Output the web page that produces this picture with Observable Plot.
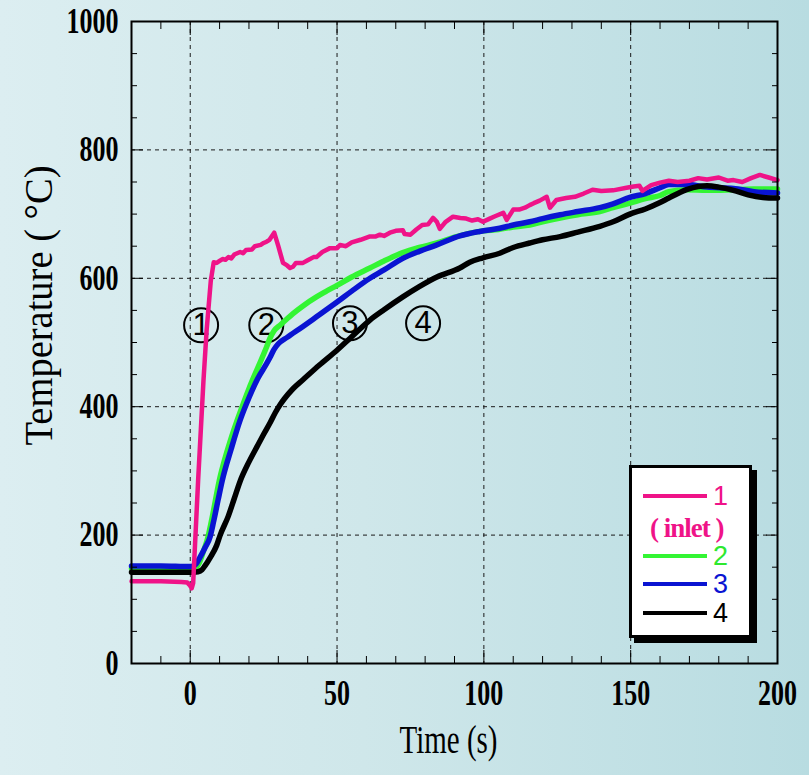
<!DOCTYPE html>
<html><head><meta charset="utf-8">
<script src="https://cdn.jsdelivr.net/npm/d3@7"></script>
<script src="https://cdn.jsdelivr.net/npm/@observablehq/plot@0.6"></script>
<style>
body{margin:0;}
#wrap{position:relative;width:809px;height:775px;background:linear-gradient(to right,#dceef1 0%,#cfe7ea 45%,#b8dce1 100%);overflow:hidden;}
#wrap svg{position:absolute;left:0;top:0;}
#legend{position:absolute;left:629px;top:465px;width:117px;height:167px;background:#fff;border:3px solid #000;box-shadow:5px 5px 0 #000;}
#legend .ln{position:absolute;left:11px;width:64px;height:4px;}
#legend .lb{position:absolute;left:81px;font-family:"Liberation Sans",Arial,sans-serif;font-size:27px;line-height:20px;height:20px;}
#legend .sub{position:absolute;left:18px;font-family:"Liberation Serif",serif;font-weight:bold;font-size:27px;line-height:20px;height:20px;letter-spacing:-1px;}
</style></head><body><div id="wrap"></div>
<script>
// ---- data (time s, temperature °C) ----
const series1 = [[-20,128],[-10,128],[-3,127],[-1,126],[0,121],[0.5,117],[1,125],[2.7,286],[4.5,440],[5.6,520],[7,596],[8,625],[9,624],[10,627],[11,630],[12,629],[13,633],[14,631],[15,637],[17,641],[18,639],[19,644],[21,645],[22,650],[24,652],[25,655],[26,657],[27,660],[28.6,671],[30,650],[31.6,624],[33,620],[34,616],[35,618],[36,624],[38.4,624],[40,628],[42,633],[43,633],[45,641],[47.6,647],[50,647],[51,652],[53,650],[55,656],[58,660],[61,665],[63,665],[64.6,668],[66,666],[68,671],[70,674],[72.4,675],[73,669],[75,668],[77,676],[79,683],[81,684],[82.7,694],[84,688],[85,677],[87,688],[89.5,696],[92,694],[94,693],[96,690],[98,692],[99.7,688],[102,693],[104,697],[106.6,702],[107.8,691],[110,707],[112,707],[114,710],[115.6,714],[117,717],[119,721],[121.4,727],[122.5,710],[124.7,722],[128,725],[131,727],[134,732],[137,738],[140,736],[144,737],[148.6,741],[151,743],[153,744],[154,736],[157,745],[160,749],[163,752],[166,750],[170,752],[173,756],[176,754],[180,757],[183,752],[185,753],[188,750],[191,756],[194,761],[197,757],[200,753]];
const series2 = [[-20,148],[0,148],[1.5,148],[3,156],[4.5,175],[6,196],[7.5,228],[9.9,285],[12,322],[14,352],[16,379],[18,404],[20,428],[22,450],[24,471],[26,493],[27.2,507],[28.5,518],[30.6,527],[33,537],[35,545],[38.4,557],[43,571],[46,579],[50,589],[55,602],[61.2,616],[66,627],[72.4,640],[78,648],[84,655],[90,664],[95,670],[100,674],[105,676],[110,680],[115.6,683],[120,688],[126,694],[132,699],[139.5,704],[144,710],[149.7,717],[155,724],[160,729],[163,735],[169,738],[176,737],[185,738],[192,739],[200,739]];
const series3 = [[-20,152],[-10,152],[0,151],[1,152],[2,155],[3.4,166],[5,180],[6.8,198],[8,222],[9.5,255],[10.9,285],[14,335],[17,379],[20,414],[23,444],[26,467],[27.2,477],[28.5,489],[30,498],[33,508],[38.4,525],[43,540],[50,563],[55,580],[61.2,600],[66,613],[72.4,631],[78,642],[84,652],[91.8,666],[98.6,673],[105.4,678],[110,683],[115.6,688],[120,693],[126,699],[132,704],[139.5,710],[144,716],[149.7,726],[155,732],[160,741],[163,746],[169,746],[176,742],[185,740],[192,735],[200,733]];
const series4 = [[-20,142],[0,142],[2.7,143],[4,146],[5,152],[6.8,165],[9,184],[10.2,200],[13,230],[15,257],[17,284],[20,314],[23,340],[25,357],[27.2,375],[29,391],[30.6,403],[32,412],[35,428],[38.4,442],[44,465],[50,488],[55,509],[61.2,535],[66,551],[72.4,571],[78,587],[84,602],[91.8,616],[95.2,625],[99.7,632],[105.4,639],[110,648],[115.6,655],[120,660],[126,665],[132,672],[139.5,681],[144,688],[149.7,700],[155,708],[160,718],[163,725],[169,738],[173,743],[176,744],[180,742],[185,737],[190,730],[195,726],[200,725]];
const seriesNames = ["1","2","3","4"];
const seriesColors = ["#ef1388","#33f533","#0a14d2","#000000"];
const circleLabels = ["1","2","3","4"];
const circleTime = [3.7,25.9,54.4,79.3];
const circleTemp = [527,527,530,530];
const xTickLabels = [0,50,100,150,200];
const yTickLabels = [0,200,400,600,800,1000];
const xGrid = [0,50,100,150];
const yGrid = [200,400,600,800];
const xMinor = d3.range(-10,200,10).filter(v => v % 50 !== 0);
const yMinor = d3.range(50,1000,50).filter(v => v % 200 !== 0);
const xTitle = "Time (s)";
const yTitle = "Temperature ( °C)";
const legendSub = "( inlet )";

const circles = circleLabels.map((l,i) => ({label:l, t:circleTime[i], v:circleTemp[i]}));
const blank = () => "";
const plain = d => String(d);
const dash = {stroke:"#1a1a1a", strokeOpacity:1, strokeWidth:1, strokeDasharray:"4,4"};
const lbl = {fontSize:35, fontWeight:"bold", fontFamily:"Liberation Serif", tickSize:0, label:null, tickFormat:plain};

const chart = Plot.plot({
  width:809, height:775,
  marginLeft:131, marginRight:32, marginTop:21, marginBottom:112,
  x:{domain:[-20,200]},
  y:{domain:[0,1000]},
  style:{background:"transparent", fontFamily:"Liberation Serif", color:"#000", overflow:"visible"},
  marks:[
    Plot.gridX(xGrid, dash),
    Plot.gridY(yGrid, dash),
    Plot.dot(circles, {x:"t", y:"v", r:17, stroke:"#000", strokeWidth:2, fill:"none"}),
    Plot.text(circles, {x:"t", y:"v", text:"label", fontSize:31, fontFamily:"Liberation Sans", fill:"#000"}),
    Plot.line(series2, {x:d=>d[0], y:d=>d[1], stroke:seriesColors[1], strokeWidth:5.5, curve:"monotone-x"}),
    Plot.line(series3, {x:d=>d[0], y:d=>d[1], stroke:seriesColors[2], strokeWidth:5.5, curve:"monotone-x"}),
    Plot.line(series4, {x:d=>d[0], y:d=>d[1], stroke:seriesColors[3], strokeWidth:5.5, curve:"monotone-x"}),
    Plot.line(series1, {x:d=>d[0], y:d=>d[1], stroke:seriesColors[0], strokeWidth:4.5}),
    Plot.frame({stroke:"#000", strokeWidth:2}),
    Plot.axisX(xMinor, {anchor:"bottom", tickSize:-7, tickFormat:blank, label:null}),
    Plot.axisX(xGrid, {anchor:"bottom", tickSize:-13, tickFormat:blank, label:null}),
    Plot.axisX(xMinor, {anchor:"top", tickSize:-7, tickFormat:blank, label:null}),
    Plot.axisX(xGrid, {anchor:"top", tickSize:-13, tickFormat:blank, label:null}),
    Plot.axisY(yMinor, {anchor:"left", tickSize:-6, tickFormat:blank, label:null}),
    Plot.axisY(yGrid, {anchor:"left", tickSize:-12, tickFormat:blank, label:null}),
    Plot.axisY(yMinor, {anchor:"right", tickSize:-6, tickFormat:blank, label:null}),
    Plot.axisY(yGrid, {anchor:"right", tickSize:-12, tickFormat:blank, label:null}),
    Plot.axisX(xTickLabels, {anchor:"bottom", tickPadding:17, ...lbl}),
    Plot.axisY(yTickLabels, {anchor:"left", tickPadding:13, ...lbl}),
    Plot.text([yTitle], {text:d=>d, frameAnchor:"left", textAnchor:"middle", dx:-92, dy:-37, rotate:-90, fontSize:40, fontFamily:"Liberation Serif", fill:"#000"}),
    Plot.text([xTitle], {text:d=>d, frameAnchor:"bottom", textAnchor:"middle", dy:89, dx:-6, fontSize:40, fontFamily:"Liberation Serif", fill:"#000"})
  ]
});
const wrap = document.getElementById("wrap");
wrap.appendChild(chart);

// condense serif texts like the original typesetting
d3.select(chart).selectAll("text").each(function(){
  const s = this.textContent;
  if (/^\d+$/.test(s) && this.closest('[aria-label$="tick label"]')) {
    this.setAttribute("textLength", s.length * 13);
    this.setAttribute("lengthAdjust", "spacingAndGlyphs");
  } else if (s === yTitle) {
    this.setAttribute("textLength", 280);
    this.setAttribute("lengthAdjust", "spacingAndGlyphs");
  } else if (s === xTitle) {
    this.setAttribute("textLength", 98);
    this.setAttribute("lengthAdjust", "spacingAndGlyphs");
  }
});

// legend box
const leg = document.createElement("div");
leg.id = "legend";
const rowTops = [26, 86, 114, 143];
seriesNames.forEach((n,i) => {
  const ln = document.createElement("div");
  ln.className = "ln";
  ln.style.top = rowTops[i] + "px";
  ln.style.background = seriesColors[i];
  leg.appendChild(ln);
  const lb = document.createElement("div");
  lb.className = "lb";
  lb.style.top = (rowTops[i] - 8) + "px";
  lb.style.color = seriesColors[i] === "#33f533" ? "#2ee82e" : seriesColors[i];
  lb.textContent = n;
  leg.appendChild(lb);
});
const sub = document.createElement("div");
sub.className = "sub";
sub.style.top = "50px";
sub.style.color = seriesColors[0];
sub.textContent = legendSub;
leg.appendChild(sub);
wrap.appendChild(leg);
</script></body></html>
